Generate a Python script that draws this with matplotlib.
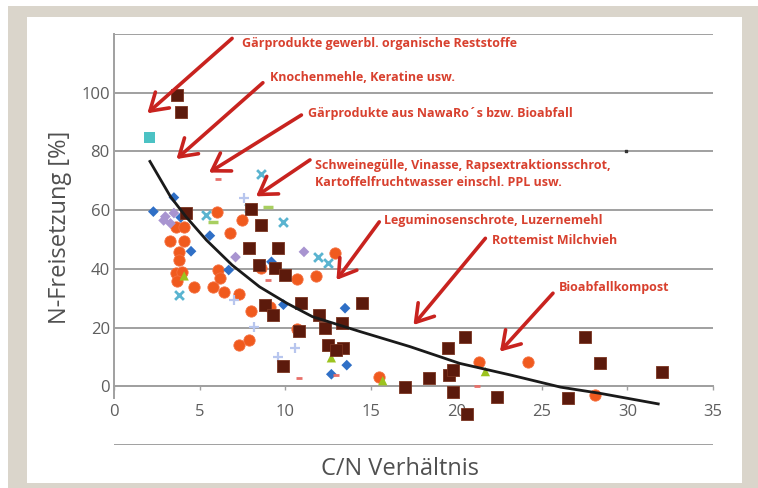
import matplotlib
matplotlib.use("Agg")
import matplotlib.pyplot as plt
from matplotlib import font_manager
from matplotlib.patches import Rectangle

# pick a narrow sans if available
names = {f.name for f in font_manager.fontManager.ttflist}
FONT = next((n for n in ["Liberation Sans Narrow", "Open Sans", "DejaVu Sans"] if n in names), "DejaVu Sans")
plt.rcParams["font.family"] = [FONT, "DejaVu Sans"]

# ---- data ----
brown_x = [3.7, 3.9, 4.2, 8.0, 8.6, 7.9, 9.6, 8.5, 9.4, 10.0, 8.8, 9.3, 10.9, 10.8, 12.0, 12.3,
           13.3, 12.5, 13.4, 13.0, 14.5, 9.9, 17.0, 18.4, 19.5, 20.5, 19.6, 19.8, 19.8, 20.6,
           22.4, 26.5, 27.5, 28.4, 32.0]
brown_y = [99.2, 93.3, 59.0, 60.4, 55.0, 47.0, 47.0, 41.2, 40.3, 38.0, 27.8, 24.3, 28.3, 19.0, 24.4, 20.0,
           21.4, 14.0, 13.0, 12.4, 28.3, 7.0, -0.1, 2.7, 12.9, 16.9, 3.8, 5.5, -1.8, -9.5,
           -3.5, -4.1, 16.9, 8.0, 5.0]

orange_x = [6.0, 7.5, 6.8, 3.6, 4.1, 3.3, 4.1, 3.8, 3.8, 3.6, 4.0, 3.7, 4.7, 5.8, 6.1, 6.2,
            6.4, 7.3, 8.6, 10.7, 11.8, 12.9, 8.0, 9.1, 10.7, 7.3, 7.9, 15.5, 21.3, 24.2, 28.1]
orange_y = [59.3, 56.7, 52.2, 54.3, 54.3, 49.5, 49.6, 45.8, 43.0, 38.7, 39.0, 35.8, 33.9, 33.9, 39.7, 37.0,
            32.2, 31.4, 40.2, 36.4, 37.6, 45.5, 25.8, 27.1, 19.6, 14.1, 15.8, 3.1, 8.4, 8.4, -3.0]

blue_x = [2.3, 3.5, 3.9, 4.5, 5.6, 6.7, 9.2, 9.9, 13.5, 13.6, 12.7]
blue_y = [59.5, 64.3, 57.5, 46.0, 51.3, 39.6, 42.4, 27.8, 26.6, 7.2, 4.1]

purple_x = [3.0, 3.3, 2.9, 3.5, 7.1, 11.1]
purple_y = [57.8, 55.5, 56.5, 59.0, 44.0, 45.8]

cyanx_x = [3.8, 5.4, 8.6, 7.9, 9.9, 11.9, 12.5]
cyanx_y = [31.0, 58.3, 72.3, 60.6, 56.0, 44.1, 41.9]

star_x = [7.6, 7.0, 8.2, 10.6, 9.6]
star_y = [64.0, 29.4, 20.3, 12.9, 9.9]

green_x = [4.1, 12.5, 12.7, 15.7, 21.7]
green_y = [37.6, 13.5, 9.7, 1.9, 5.0]

gdash_x = [9.0, 5.8]
gdash_y = [61.0, 56.0]

pink_x = [6.1, 9.0, 10.8, 13.0, 21.2]
pink_y = [70.7, 36.2, 2.7, 3.8, 0.0]

cyansq_x = [2.1]
cyansq_y = [84.8]

dot_x = [29.9]
dot_y = [80.3]

# trend line, points
trend_x = [2.1, 3.3, 4.2, 5.4, 6.9, 8.5, 10.1, 11.6, 14.4, 17.3, 20.2, 23.2, 26.1, 28.4, 31.8]
trend_y = [76.6, 64.6, 57.8, 49.8, 41.3, 33.9, 28.3, 23.7, 18.6, 13.5, 7.8, 3.8, -0.3, -2.4, -6.0]

# annotations: text, text anchor (x, y), arrow tail, arrow head
labels = [
    "Gärprodukte gewerbl. organische Reststoffe",
    "Knochenmehle, Keratine usw.",
    "Gärprodukte aus NawaRo´s bzw. Bioabfall",
    "Schweinegülle, Vinasse, Rapsextraktionsschrot,\nKartoffelfruchtwasser einschl. PPL usw.",
    "Leguminosenschrote, Luzernemehl",
    "Rottemist Milchvieh",
    "Bioabfallkompost",
]
label_pos = [(7.45, 116.6), (9.1, 105.2), (11.35, 93.0), (11.75, 72.3), (15.8, 56.6), (22.1, 49.6), (26.0, 33.7)]
arrow_tail = [(6.9, 118.5), (8.7, 103.4), (10.95, 92.4), (11.45, 77.1), (15.5, 56.0), (21.7, 50.4), (25.65, 31.7)]
arrow_head = [(1.95, 93.0), (3.65, 77.4), (5.55, 72.8), (8.3, 64.7), (13.0, 36.2), (17.5, 20.9), (22.55, 11.8)]

W, H = 758, 488
fig = plt.figure(figsize=(W / 100, H / 100), dpi=100, facecolor="white")
# beige frame
fig.add_artist(Rectangle((8 / W, 0), 1 - 8 / W, 1 - 6 / H, transform=fig.transFigure,
                         facecolor="#dad5cb", edgecolor="none", zorder=-10))
fig.add_artist(Rectangle((27 / W, 5 / H), (742 - 27) / W, (483 - 17) / H, transform=fig.transFigure,
                         facecolor="white", edgecolor="none", zorder=-9))

ax = fig.add_axes([114 / W, 1 - 445 / H, (713 - 114) / W, (445 - 34) / H])
ax.set_facecolor("none")

ax.plot(trend_x, trend_y, color="#1a1a1a", lw=2.0, zorder=6)

ax.scatter(orange_x, orange_y, marker="o", s=66, color="#f05a1e", edgecolors="#f47040", lw=0.6, zorder=3)
ax.scatter(blue_x, blue_y, marker="D", s=30, color="#2f6fc6", edgecolors="none", zorder=3)
ax.scatter(purple_x, purple_y, marker="D", s=30, color="#a894d0", edgecolors="none", zorder=3)
ax.scatter(cyanx_x, cyanx_y, marker="x", s=40, color="#5ab4d0", lw=2.0, zorder=3)
ax.scatter(star_x, star_y, marker="+", s=50, color="#b8c6ee", lw=1.6, zorder=3)
ax.scatter(green_x, green_y, marker="^", s=45, color="#9cc31f", edgecolors="none", zorder=3)
ax.scatter(gdash_x, gdash_y, marker="_", s=50, color="#a8cf60", lw=2.5, zorder=3)
ax.scatter(pink_x, pink_y, marker="_", s=20, color="#e8706a", lw=2.0, zorder=3)
ax.scatter(brown_x, brown_y, marker="s", s=66, color="#5c1a0c", edgecolors="#7a3420", lw=0.6, zorder=4)
ax.scatter(cyansq_x, cyansq_y, marker="s", s=62, color="#4cc2c4", edgecolors="none", zorder=4)
ax.scatter(dot_x, dot_y, marker="s", s=3, color="#333333", zorder=4)

for txt, tp, tail, head in zip(labels, label_pos, arrow_tail, arrow_head):
    ax.annotate("", xy=head, xytext=tail, annotation_clip=False,
                arrowprops=dict(arrowstyle="->,head_length=0.6,head_width=0.38",
                                color="#c8231f", lw=2.6, mutation_scale=20, shrinkA=0, shrinkB=0),
                zorder=7)
    ax.text(tp[0], tp[1], txt, color="#d8402e", fontsize=9, fontweight="bold",
            ha="left", va="center", linespacing=1.45, zorder=7)

ax.set_xlim(0, 35)
ax.set_ylim(-20, 120)
ax.set_xticks(range(0, 36, 5))
yt = list(range(-20, 121, 20))
ax.set_yticks(yt)
ax.set_yticklabels([str(v) if 0 <= v <= 100 else "" for v in yt])
ax.grid(axis="y", color="#a0a0a0", lw=1.4)
ax.set_axisbelow(True)

for s in ["top", "right"]:
    ax.spines[s].set_visible(False)
ax.spines["bottom"].set_position(("data", 0))
ax.spines["bottom"].set_color("#a0a0a0")
ax.spines["bottom"].set_linewidth(1.4)
ax.spines["left"].set_color("#a0a0a0")
ax.spines["left"].set_linewidth(1.4)
ax.spines["left"].set_bounds(-4, 120)

ax.tick_params(axis="y", length=0, pad=3, labelsize=12, labelcolor="#5e5e5e")
ax.tick_params(axis="x", length=3, width=1, color="#a0a0a0", pad=10, labelsize=12, labelcolor="#5e5e5e")

ax.set_xlabel("C/N Verhältnis", fontsize=17, color="#505050")
ax.xaxis.set_label_coords(0.477, -0.03)
ax.set_ylabel("N-Freisetzung [%]", fontsize=17, color="#505050")
ax.yaxis.set_label_coords(-0.07, 0.53)

fig.savefig("out.png", dpi=100, facecolor=fig.get_facecolor())
